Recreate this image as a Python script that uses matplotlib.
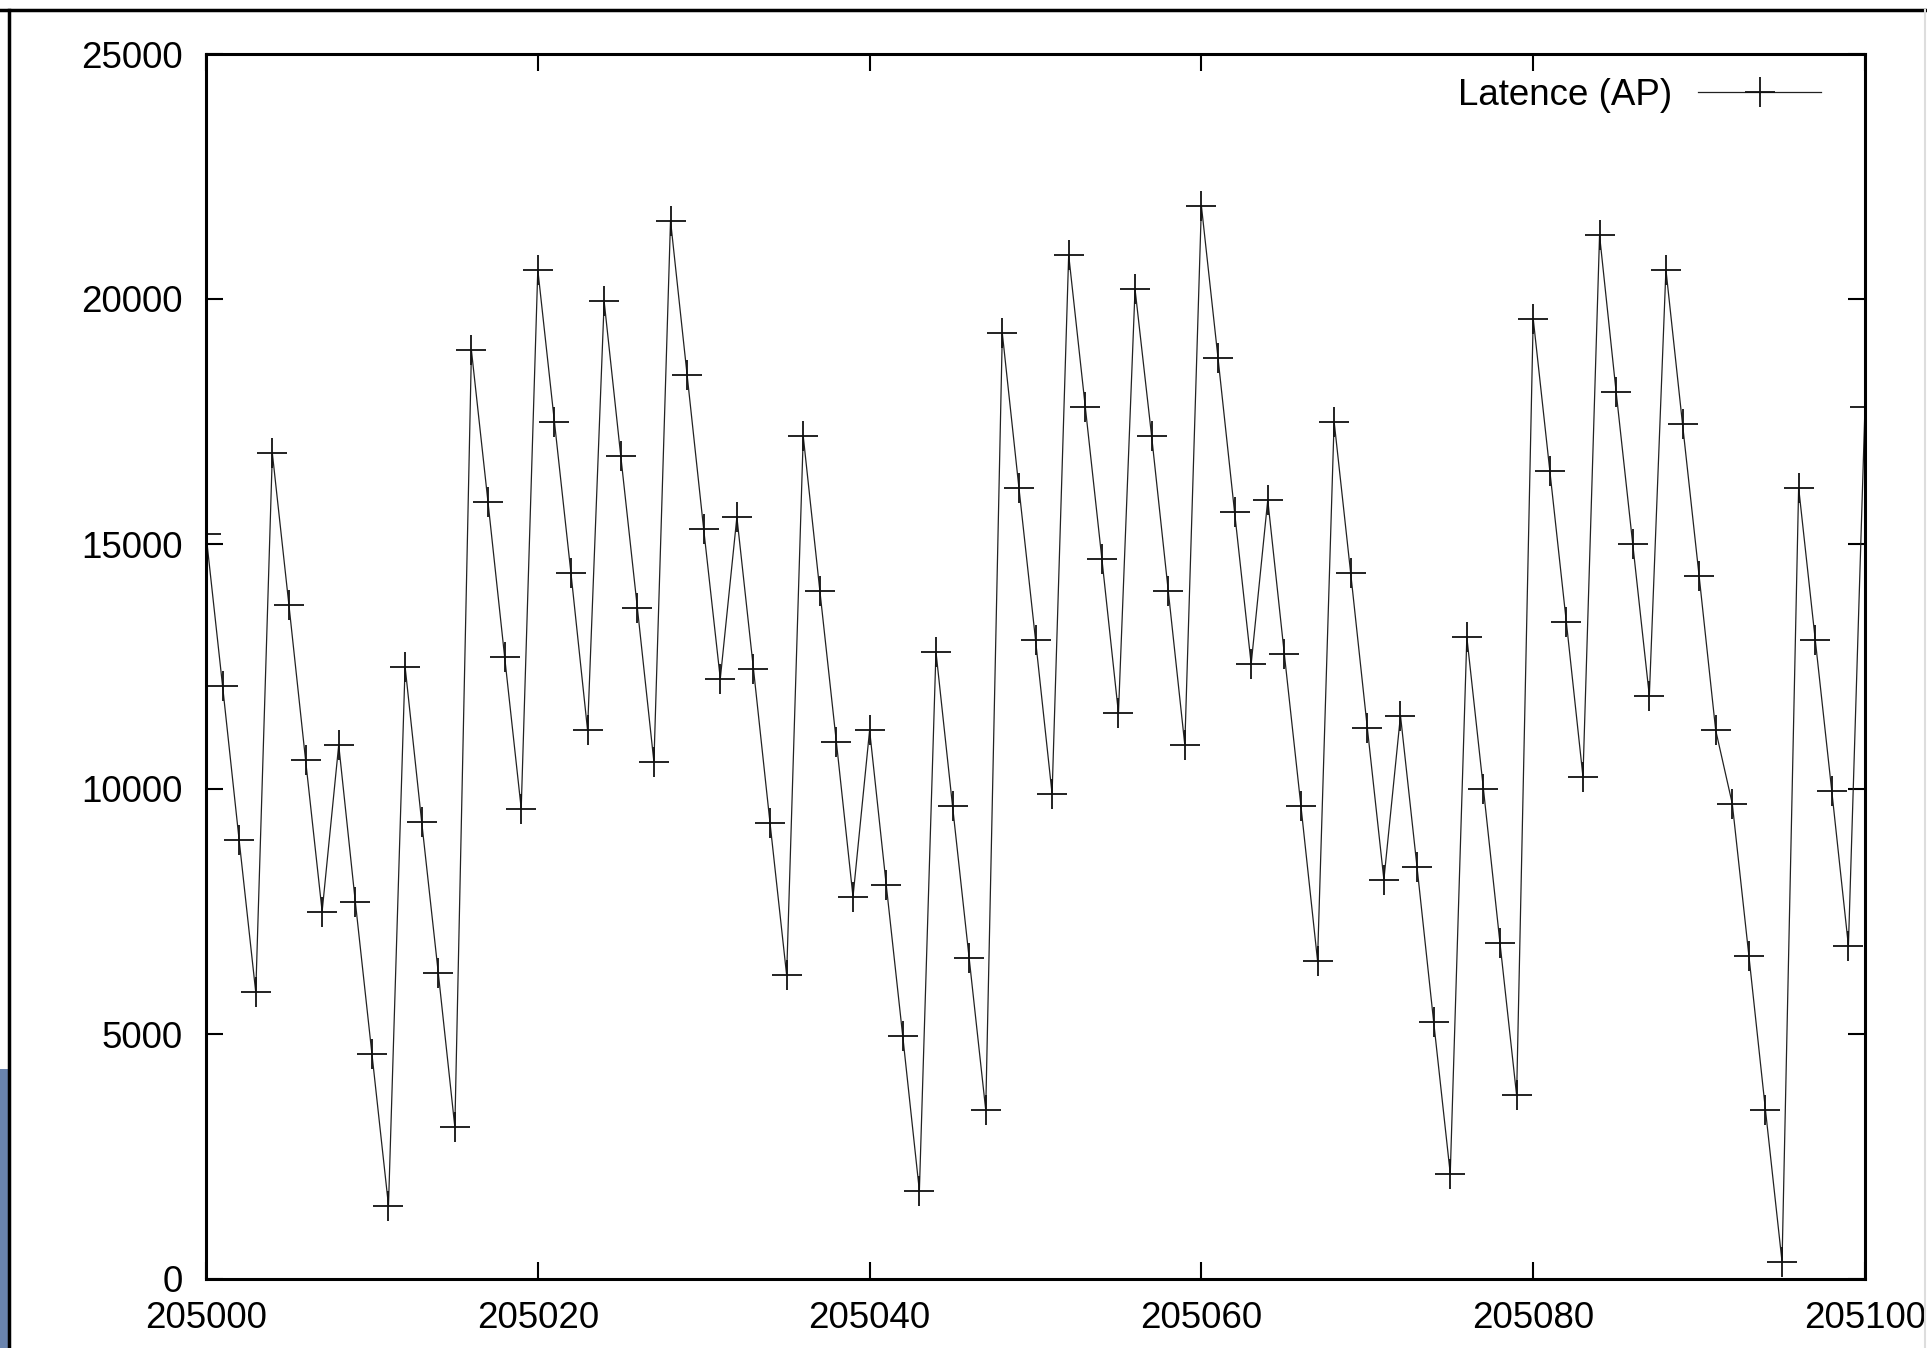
import numpy as np
import matplotlib
matplotlib.use("Agg")
import matplotlib.pyplot as plt
from matplotlib.patches import Rectangle
from matplotlib.lines import Line2D

# sample index (x) and latency (y)
x_start = 205000
latence = [15200, 12100, 8950, 5850, 16850, 13750, 10600, 7500, 10900, 7700,
           4600, 1500, 12500, 9330, 6250, 3100, 18950, 15850, 12700, 9600,
           20600, 17500, 14400, 11200, 19950, 16800, 13700, 10550, 21600, 18450,
           15300, 12250, 15550, 12450, 9300, 6200, 17200, 14050, 10950, 7800,
           11200, 8050, 4950, 1800, 12800, 9650, 6550, 3450, 19300, 16150,
           13050, 9900, 20900, 17800, 14700, 11550, 20200, 17200, 14050, 10900,
           21900, 18800, 15650, 12550, 15900, 12750, 9650, 6500, 17500, 14400,
           11250, 8150, 11500, 8400, 5250, 2150, 13100, 10000, 6850, 3750,
           19600, 16500, 13400, 10250, 21300, 18100, 15000, 11900, 20600, 17450,
           14350, 11200, 9700, 6600, 3450, 350, 16150, 13050, 9950, 6800,
           17800]
x = np.arange(x_start, x_start + len(latence))

xticks = [205000, 205020, 205040, 205060, 205080, 205100]
yticks = [0, 5000, 10000, 15000, 20000, 25000]

plt.rcParams['font.family'] = ['Liberation Sans', 'DejaVu Sans']

fig = plt.figure(figsize=(19.27, 13.48), dpi=100)
ax = fig.add_axes([206/1927, 1 - 1279/1348, (1865-206)/1927, (1279-54)/1348])

ax.plot(x, latence, color='#222222', lw=0.9, marker='+', ms=22, mew=1.3,
        mec='#111111', label='Latence (AP)')

ax.set_xlim(205000, 205100)
ax.set_ylim(0, 25000)
ax.set_xticks(xticks)
ax.set_yticks(yticks)
ax.tick_params(direction='in', length=12, width=1.5, top=True, right=True,
               labelsize=26.5, pad=16)
ax.tick_params(axis='y', pad=17)
for s in ax.spines.values():
    s.set_linewidth(2.2)

ax.legend(loc='upper right', frameon=False, markerfirst=False, fontsize=26.5,
          handlelength=3.35, handletextpad=0.7, borderaxespad=0.25,
          bbox_to_anchor=(0.988, 1.0))

# slide frame around the screenshot
fig.add_artist(Line2D([0, 1], [1 - 10/1348, 1 - 10/1348], color='black', lw=2.5))
fig.add_artist(Line2D([9/1927, 9/1927], [0, 1 - 10/1348], color='black', lw=2.5))
fig.add_artist(Line2D([1925/1927, 1925/1927], [0, 1 - 10/1348], color='#dddddd', lw=1.5))
fig.add_artist(Rectangle((0, 0), 8/1927, 1 - 1069/1348, transform=fig.transFigure,
                         color='#6a84ae', lw=0))

plt.savefig('out.png', dpi=100)
